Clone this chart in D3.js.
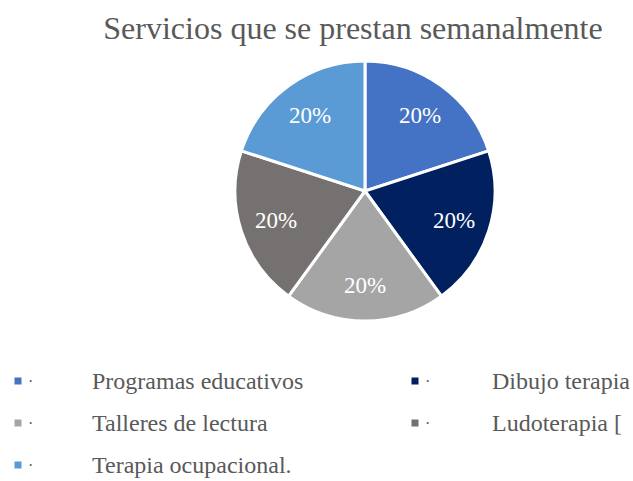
<!DOCTYPE html>
<html>
<head>
<meta charset="utf-8">
<script src="https://cdn.jsdelivr.net/npm/d3@7"></script>
<style>
  body { margin: 0; background: #fff; }
</style>
</head>
<body>
<div id="chart"></div>
<script>
const categories = ["Programas educativos", "Dibujo terapia", "Talleres de lectura", "Ludoterapia [", "Terapia ocupacional."];
const values = [20, 20, 20, 20, 20];
const colors = ["#4472C4", "#002060", "#A5A5A5", "#767171", "#5B9BD5"];
const title = "Servicios que se prestan semanalmente";

const width = 633, height = 481;
const cx = 365, cy = 191, radius = 130;
const serif = "'Liberation Serif', 'Times New Roman', serif";

const svg = d3.select("#chart").append("svg")
  .attr("width", width)
  .attr("height", height)
  .attr("font-family", serif);

svg.append("text")
  .attr("x", 353)
  .attr("y", 39)
  .attr("text-anchor", "middle")
  .attr("font-family", serif)
  .attr("font-size", 32)
  .attr("fill", "#595959")
  .text(title);

const total = d3.sum(values);
const pie = d3.pie().sort(null).value(d => d);
const arc = d3.arc().innerRadius(0).outerRadius(radius);
const labelArc = d3.arc().innerRadius(radius * 0.72).outerRadius(radius * 0.72);

const g = svg.append("g").attr("transform", `translate(${cx},${cy})`);
const arcs = pie(values);

g.selectAll("path")
  .data(arcs)
  .enter()
  .append("path")
  .attr("d", arc)
  .attr("fill", (d, i) => colors[i])
  .attr("stroke", "#fff")
  .attr("stroke-width", 3);

g.selectAll("text.lbl")
  .data(arcs)
  .enter()
  .append("text")
  .attr("class", "lbl")
  .attr("transform", d => `translate(${labelArc.centroid(d)})`)
  .attr("text-anchor", "middle")
  .attr("dy", "0.35em")
  .attr("font-family", serif)
  .attr("font-size", 23)
  .attr("fill", "#fff")
  .text(d => Math.round(d.data / total * 100) + "%");

// legend, two columns
const legX = [18, 415], textX = [92, 492], rowY = [381, 423, 465];
const leg = svg.selectAll("g.leg")
  .data(categories)
  .enter()
  .append("g")
  .attr("class", "leg")
  .attr("transform", (d, i) => `translate(${legX[i % 2]},${rowY[Math.floor(i / 2)]})`);

leg.append("rect")
  .attr("x", -3.5).attr("y", -3.5)
  .attr("width", 7).attr("height", 7)
  .attr("fill", (d, i) => colors[i]);

leg.append("text")
  .attr("x", 10)
  .attr("dy", "0.35em")
  .attr("font-family", serif)
  .attr("font-size", 16)
  .attr("fill", "#595959")
  .text("·");

leg.append("text")
  .attr("x", (d, i) => textX[i % 2] - legX[i % 2])
  .attr("dy", "0.35em")
  .attr("font-family", serif)
  .attr("font-size", 24)
  .attr("fill", "#595959")
  .text(d => d);
</script>
</body>
</html>
